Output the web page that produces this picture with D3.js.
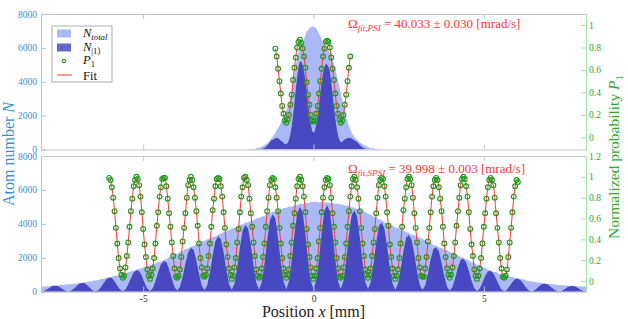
<!DOCTYPE html>
<html>
<head>
<meta charset="utf-8">
<script src="https://cdn.jsdelivr.net/npm/d3@7"></script>
<style>
body { margin: 0; background: #fff; }
svg { display: block; font-family: "Liberation Serif", "DejaVu Serif", serif; }
</style>
</head>
<body>
<script>
// ---- data ----
const xTicks = [-5, 0, 5];
const atomTicks = [0, 2000, 4000, 6000, 8000];
const probTicksTop = [0, 0.2, 0.4, 0.6, 0.8, 1];
const probTicksBottom = [0, 0.2, 0.4, 0.6, 0.8, 1, 1.2];

// PSI (top panel): histogram bins from -2 mm, 0.04 mm wide
const psiBinStart = -2, psiBinWidth = 0.04;
const psiTotal = [0,5,8,12,14,22,28,47,53,83,
  98,134,166,205,246,306,374,458,532,660,
  745,880,982,1130,1250,1415,1545,1765,1915,2140,
  2290,2540,2740,3120,3480,4030,4480,4980,5380,5770,
  5990,6170,6280,6520,6730,6970,7040,7170,7210,7280,
  7240,7230,7140,7020,6830,6720,6480,6320,6080,5990,
  5890,5840,5730,5620,5330,5070,4730,4420,4030,3700,
  3280,2970,2580,2270,1900,1620,1370,1190,990,870,
  740,670,570,510,420,375,315,275,215,185,
  145,124,92,78,52,42,28,21,11,7,0];
const psiExcited = [0,4,6,8,9,11,11,13,11,12,
  14,20,34,58,95,152,230,325,425,550,
  560,630,670,680,660,600,520,470,390,330,
  310,390,560,890,1350,2010,2750,3550,4280,4880,
  5180,5200,5010,4640,4150,3460,2740,2030,1490,1100,
  980,1110,1460,2000,2640,3360,3980,4510,4840,5060,
  5000,4880,4560,3990,3270,2520,1840,1250,830,560,
  450,450,530,600,640,680,690,680,650,600,
  540,500,440,350,260,185,124,77,45,28,
  20,18,19,21,21,20,18,14,10,5,0];
// P1 points from -1.12 mm every 0.04 mm
const psiProbStart = -1.12, psiProbStep = 0.04;
const psiProb = [0.79,0.72,0.61,0.50,0.39,0.28,0.21,0.15,0.13,0.16,0.20,0.29,0.38,0.51,0.62,0.71,0.80,0.85,
  0.87,0.84,0.79,0.72,0.62,0.49,0.38,0.29,0.20,0.15,0.14,0.15,0.21,0.28,0.39,0.50,0.61,0.72,0.79,0.85,
  0.86,0.85,0.80,0.71,0.61,0.51,0.39,0.28,0.21,0.16,0.13,0.15,0.20,0.29,0.38,0.50,0.62,0.72];

// SPSI (bottom panel): histogram bins from -8 mm, 0.08 mm wide
const spsiBinStart = -8, spsiBinWidth = 0.08;
const spsiTotal = [290,300,322,328,350,362,370,392,398,420,
  432,446,474,486,515,534,552,588,602,640,
  662,692,742,768,818,856,884,938,962,1020,
  1046,1108,1142,1210,1238,1310,1344,1416,1446,1520,
  1552,1630,1664,1748,1780,1862,1918,2030,2070,2190,
  2240,2350,2390,2510,2550,2670,2700,2810,2840,2950,
  2990,3090,3120,3230,3260,3370,3400,3510,3540,3650,
  3690,3790,3820,3940,3960,4070,4090,4200,4210,4320,
  4340,4440,4470,4590,4610,4720,4730,4830,4830,4930,
  4940,5020,5010,5100,5090,5180,5160,5240,5220,5290,
  5290,5310,5260,5290,5240,5270,5210,5230,5170,5200,
  5140,5130,5050,5060,4970,4980,4860,4840,4790,4700,
  4590,4550,4420,4390,4260,4230,4100,4070,3940,3910,
  3790,3760,3640,3620,3500,3480,3360,3340,3220,3190,
  3090,3050,2920,2890,2760,2730,2610,2580,2470,2440,
  2340,2300,2190,2160,2050,2020,1900,1860,1740,1700,
  1590,1550,1440,1410,1300,1270,1180,1160,1070,1050,
  970,960,890,880,810,800,735,730,665,650,
  595,590,545,540,500,490,458,455,428,425,
  396,394,372,370,350,346,330,326,314,312,300];
const spsiExcited = [9,37,116,221,314,349,339,258,147,51,
  13,55,172,326,463,514,504,387,222,78,
  20,86,269,515,736,825,807,618,354,124,
  32,135,420,798,1134,1261,1226,934,531,185,
  47,199,612,1153,1625,1795,1751,1337,763,267,
  68,287,880,1656,2331,2571,2467,1855,1044,360,
  90,378,1146,2135,2975,3250,3102,2321,1299,446,
  111,464,1402,2600,3610,3929,3728,2773,1544,528,
  131,544,1639,3032,4199,4559,4308,3192,1770,603,
  149,614,1836,3372,4635,4996,4698,3465,1913,648,
  159,651,1927,3505,4771,5093,4744,3465,1894,636,
  155,629,1851,3345,4526,4802,4426,3199,1730,574,
  138,556,1621,2899,3882,4074,3737,2687,1445,477,
  114,459,1336,2387,3193,3347,3066,2201,1183,390,
  93,371,1073,1902,2521,2619,2385,1702,909,298,
  71,280,807,1423,1877,1940,1741,1224,642,207,
  48,188,533,924,1197,1213,1085,759,397,127,
  29,116,329,572,744,757,675,471,245,78,
  18,71,201,351,457,466,421,298,158,51,
  12,48,137,242,319,330,301,215,115,38,9];
// P1 points from -6 mm every 0.04 mm
const spsiProbStart = -6, spsiProbStep = 0.04;
const spsiProb = [
  0.99,0.97,0.90,0.80,0.67,0.51,0.36,0.22,0.12,0.06,0.03,0.05,0.13,0.24,0.37,0.52,0.67,0.79,0.91,0.97,
  1.00,0.98,0.92,0.81,0.66,0.50,0.35,0.23,0.11,0.05,0.02,0.06,0.12,0.22,0.36,0.53,0.66,0.81,0.90,0.98,
  0.99,0.99,0.91,0.79,0.65,0.52,0.37,0.24,0.12,0.04,0.03,0.05,0.11,0.23,0.38,0.51,0.65,0.80,0.92,0.97,
  1.00,0.97,0.90,0.80,0.67,0.53,0.36,0.22,0.13,0.05,0.04,0.06,0.12,0.24,0.36,0.52,0.68,0.79,0.91,0.98,
  0.99,0.98,0.91,0.81,0.66,0.51,0.35,0.23,0.12,0.06,0.02,0.05,0.13,0.22,0.37,0.50,0.66,0.81,0.90,0.99,
  1.00,0.97,0.92,0.79,0.65,0.52,0.37,0.24,0.11,0.05,0.03,0.04,0.12,0.23,0.36,0.52,0.67,0.80,0.92,0.97,
  0.99,0.98,0.90,0.80,0.67,0.51,0.36,0.22,0.12,0.06,0.03,0.06,0.11,0.24,0.37,0.53,0.65,0.79,0.91,0.98,
  1.00,0.97,0.91,0.81,0.66,0.50,0.35,0.23,0.13,0.05,0.02,0.05,0.12,0.22,0.38,0.51,0.66,0.80,0.90,0.97,
  0.99,0.98,0.92,0.80,0.65,0.52,0.37,0.22,0.12,0.04,0.03,0.05,0.13,0.23,0.36,0.52,0.67,0.81,0.91,0.98,
  1.00,0.97,0.90,0.79,0.67,0.51,0.36,0.24,0.11,0.06,0.03,0.06,0.12,0.24,0.37,0.50,0.65,0.80,0.92,0.97,
  0.99,0.98,0.91,0.81,0.66,0.53,0.35,0.23,0.12,0.05,0.02,0.05,0.11,0.22,0.36,0.52,0.68,0.79,0.90,0.98,
  1.00,0.98,0.92,0.80,0.65,0.51,0.37,0.22,0.13,0.05,0.04,0.04,0.12,0.23,0.38,0.51,0.66,0.81,0.91,0.97,
  0.99,0.97,0.90,0.79,0.67,0.52,0.36,0.23,0.12,0.06,0.03,0.06,0.13,0.24,0.37,0.53,0.67,0.80,0.92,0.98,
  1.00,0.98,0.91,0.81,0.66,0.50,0.35,0.24,0.11,0.05,0.02,0.05,0.12,0.22,0.36,0.52,0.65,0.79,0.90,0.97,
  0.99,0.97,0.92,0.80,0.65,0.51,0.37,0.22,0.12,0.04,0.03,0.05,0.11,0.23,0.37,0.51,0.66,0.81,0.91,0.97,
  0.95];

const fitNames = ["fit,PSI", "fit,SPSI"];
const fitValues = ["40.033 ± 0.030", "39.998 ± 0.003"];

// ---- colours ----
const cTotal = "#abbaf6", cExcited = "#4848c2", cPoint = "#1f9a1f", cFit = "#ff3434";
const cBlue = "#3a8ed2", cGreen = "#2ea82e", cBlueAxis = "#a2cbec", cGreenAxis = "#a8e2a8", cFrame = "#c4c4c4";
const serif = "Liberation Serif, DejaVu Serif, serif";

let width = 628, height = 319;
let svg = d3.select("body").append("svg").attr("width", width).attr("height", height);

let x = d3.scaleLinear().domain([-8, 8]).range([41, 586]);

// text with italic parts and subscripts
function rich(sel, parts, size) {
  let shift = 0;
  sel.attr("font-family", serif);
  parts.forEach(p => {
    let ts = sel.append("tspan").text(p.t);
    if (p.it) ts.attr("font-style", "italic");
    let want = p.sub ? size * 0.25 : 0;
    ts.attr("dy", want - shift).attr("font-size", p.sub ? size * 0.7 : size);
    shift = want;
  });
  return sel;
}

let panels = [
  { top: 14, bottom: 149.5, pDomain: [-0.108, 1.098], pTicks: probTicksTop,
    binStart: psiBinStart, binWidth: psiBinWidth, total: psiTotal, excited: psiExcited,
    probStart: psiProbStart, probStep: psiProbStep, prob: psiProb, textY: 28, xLabels: false },
  { top: 156, bottom: 291.7, pDomain: [-0.103, 1.2], pTicks: probTicksBottom,
    binStart: spsiBinStart, binWidth: spsiBinWidth, total: spsiTotal, excited: spsiExcited,
    probStart: spsiProbStart, probStep: spsiProbStep, prob: spsiProb, textY: 173, xLabels: true }
];

panels.forEach((p, k) => {
  let yN = d3.scaleLinear().domain([0, 8000]).range([p.bottom, p.top]);
  let yP = d3.scaleLinear().domain(p.pDomain).range([p.bottom, p.top]);
  let g = svg.append("g");

  let clipId = "clip" + k;
  svg.append("clipPath").attr("id", clipId).append("rect")
    .attr("x", x(-8)).attr("y", p.top).attr("width", x(8) - x(-8)).attr("height", p.bottom - p.top);

  let bins = p.total.map((v, i) => ({ x: p.binStart + i * p.binWidth, t: v, e: p.excited[i] }));
  let marks = g.append("g").attr("clip-path", `url(#${clipId})`);

  marks.append("path").datum(bins).attr("fill", cTotal)
    .attr("d", d3.area().x(d => x(d.x)).y0(yN(0)).y1(d => yN(d.t)));
  marks.append("path").datum(bins).attr("fill", cExcited)
    .attr("d", d3.area().x(d => x(d.x)).y0(yN(0)).y1(d => yN(d.e)));

  let pts = p.prob.map((v, i) => ({ x: p.probStart + i * p.probStep, v: v }));
  marks.append("path").datum(pts).attr("fill", "none").attr("stroke", cFit).attr("stroke-width", 1)
    .attr("d", d3.line().curve(d3.curveCatmullRom).x(d => x(d.x)).y(d => yP(d.v)));
  marks.selectAll("circle").data(pts).join("circle")
    .attr("cx", d => x(d.x)).attr("cy", d => yP(d.v)).attr("r", 2.4)
    .attr("fill", "none").attr("stroke", cPoint).attr("stroke-width", 1.15);

  // frame: grey top / bottom with inward x ticks
  let xTop = g.append("g").attr("transform", `translate(0,${p.top})`)
    .call(d3.axisTop(x).tickValues(xTicks).tickSize(-5).tickSizeOuter(0).tickFormat(""));
  let xBot = g.append("g").attr("transform", `translate(0,${p.bottom})`)
    .call(d3.axisBottom(x).tickValues(xTicks).tickSize(-5).tickSizeOuter(0).tickPadding(4)
      .tickFormat(d => p.xLabels ? (d < 0 ? "-" + (-d) : d) : ""));
  [xTop, xBot].forEach(a => {
    a.selectAll("path, line").attr("stroke", cFrame);
    a.selectAll("text").attr("fill", "#333").attr("font-size", 9.5).attr("font-family", serif);
  });

  let left = g.append("g").attr("transform", `translate(${x(-8)},0)`)
    .call(d3.axisLeft(yN).tickValues(atomTicks).tickSize(-5).tickSizeOuter(0).tickPadding(4)
      .tickFormat(d3.format("d")));
  left.selectAll("path, line").attr("stroke", cBlueAxis);
  left.selectAll("text").attr("fill", cBlue).attr("font-size", 9.5).attr("font-family", serif);

  let right = g.append("g").attr("transform", `translate(${x(8)},0)`)
    .call(d3.axisRight(yP).tickValues(p.pTicks).tickSize(-5).tickSizeOuter(0).tickPadding(3)
      .tickFormat(d3.format("~g")));
  right.selectAll("path, line").attr("stroke", cGreenAxis);
  right.selectAll("text").attr("fill", cGreen).attr("font-size", 9.5).attr("font-family", serif);

  // fitted rotation rate
  rich(g.append("text").attr("x", 348).attr("y", p.textY).attr("fill", cFit),
    [{ t: "Ω" }, { t: fitNames[k], it: true, sub: true }, { t: " = " + fitValues[k] + " [mrad/s]" }], 13);
});

// axis titles
rich(svg.append("text").attr("transform", "translate(14,154) rotate(-90)")
  .attr("text-anchor", "middle").attr("fill", cBlue),
  [{ t: "Atom number " }, { t: "N", it: true }], 16);
rich(svg.append("text").attr("transform", "translate(619,157) rotate(-90)")
  .attr("text-anchor", "middle").attr("fill", cGreen),
  [{ t: "Normalized probability " }, { t: "P", it: true }, { t: "1", sub: true }], 15.5);
rich(svg.append("text").attr("x", x(0)).attr("y", 317).attr("text-anchor", "middle").attr("fill", "#222"),
  [{ t: "Position " }, { t: "x", it: true }, { t: " [mm]" }], 16);

// legend
let lg = svg.append("g").attr("transform", "translate(52,26)");
lg.append("rect").attr("width", 60).attr("height", 56).attr("fill", "#fff").attr("stroke", "#9a9a9a").attr("stroke-width", 0.8);
lg.append("rect").attr("x", 5).attr("y", 3.5).attr("width", 14).attr("height", 8).attr("fill", cTotal);
lg.append("rect").attr("x", 5).attr("y", 17.5).attr("width", 14).attr("height", 8).attr("fill", "#6565c8");
lg.append("circle").attr("cx", 12).attr("cy", 35).attr("r", 1.6).attr("fill", "none").attr("stroke", cPoint).attr("stroke-width", 1.1);
lg.append("line").attr("x1", 5).attr("x2", 20).attr("y1", 49).attr("y2", 49).attr("stroke", cFit).attr("stroke-width", 1);
rich(lg.append("text").attr("x", 31).attr("y", 10.5).attr("fill", "#111"), [{ t: "N", it: true }, { t: "total", it: true, sub: true }], 12.5);
rich(lg.append("text").attr("x", 31).attr("y", 24.5).attr("fill", "#111"), [{ t: "N", it: true }, { t: "|1⟩", sub: true }], 12.5);
rich(lg.append("text").attr("x", 31).attr("y", 37.5).attr("fill", "#111"), [{ t: "P", it: true }, { t: "1", sub: true }], 12.5);
rich(lg.append("text").attr("x", 31).attr("y", 53.5).attr("fill", "#111"), [{ t: "Fit" }], 12.5);
</script>
</body>
</html>
